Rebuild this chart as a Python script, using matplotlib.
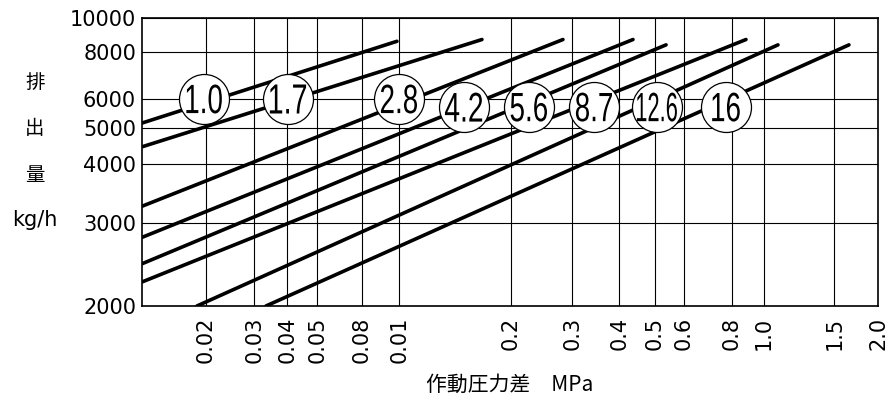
import numpy as np
import matplotlib
matplotlib.use("Agg")
import matplotlib.pyplot as plt
from matplotlib.textpath import TextPath
from matplotlib.patches import PathPatch
from matplotlib.font_manager import FontProperties
from matplotlib.transforms import Affine2D, ScaledTranslation
from matplotlib.ticker import FixedLocator, NullLocator

# --- data ---
sizes = ['1.0', '1.7', '2.8', '4.2', '5.6', '8.7', '12.6', '16']
dp_start = [0.012, 0.012, 0.012, 0.012, 0.012, 0.012, 0.0186, 0.0332]
dp_end = [0.0986, 0.167, 0.282, 0.436, 0.537, 0.883, 1.084, 1.651]
flow_start = [5150, 4450, 3260, 2800, 2460, 2250, 2000, 2000]
flow_end = [8600, 8700, 8700, 8700, 8400, 8700, 8400, 8400]
label_dp = [0.0197, 0.0402, 0.0998, 0.149, 0.225, 0.3425, 0.507, 0.773]
label_flow = [6000, 6000, 6000, 5700, 5700, 5700, 5700, 5700]

x_ticks = [0.02, 0.03, 0.04, 0.05, 0.08, 0.1, 0.2, 0.3, 0.4, 0.5, 0.6, 0.8, 1.0, 1.5, 2.0]
x_labels = ['0.02', '0.03', '0.04', '0.05', '0.08', '0.01', '0.2', '0.3',
            '0.4', '0.5', '0.6', '0.8', '1.0', '1.5', '2.0']
y_ticks = [2000, 3000, 4000, 5000, 6000, 8000, 10000]
y_labels = ['2000', '3000', '4000', '5000', '6000', '8000', '10000']

# --- the printed grid is not a clean log grid, so calibrate the axes ---
x_cal = [0.012] + x_ticks
x_cal_px = [142, 206, 254.3, 287.3, 317.3, 362, 399.3, 511, 572.3,
            619.3, 654.7, 683.7, 731.7, 764, 834.3, 878.3]
y_cal = y_ticks
y_cal_px = [306, 223.3, 164.3, 127.7, 99, 52.3, 18.3]

lx = np.log10(x_cal)
ly = np.log10(y_cal)
ypx = -np.array(y_cal_px)


def x_fwd(v):
    return np.interp(np.log10(np.clip(v, 1e-9, None)), lx, x_cal_px)


def x_inv(p):
    return 10 ** np.interp(p, x_cal_px, lx)


def y_fwd(v):
    return np.interp(np.log10(np.clip(v, 1e-9, None)), ly, ypx)


def y_inv(p):
    return 10 ** np.interp(p, ypx, ly)


W, H = 891, 403
fig = plt.figure(figsize=(W / 100, H / 100), dpi=100)
ax = fig.add_axes([142 / W, (H - 306) / H, (878.3 - 142) / W, (306 - 18.3) / H])
ax.set_xscale('function', functions=(x_fwd, x_inv))
ax.set_yscale('function', functions=(y_fwd, y_inv))
ax.set_xlim(0.012, 2.0)
ax.set_ylim(2000, 10000)

ax.xaxis.set_major_locator(FixedLocator(x_ticks))
ax.xaxis.set_minor_locator(NullLocator())
ax.yaxis.set_major_locator(FixedLocator(y_ticks))
ax.yaxis.set_minor_locator(NullLocator())
ax.set_xticklabels(x_labels, rotation=90)
ax.set_yticklabels(y_labels)
ax.tick_params(axis='x', length=0, pad=8, labelsize=15)
ax.tick_params(axis='y', length=0, pad=4.3, labelsize=15)
ax.grid(True, color='black', linewidth=0.8)
for sp in ax.spines.values():
    sp.set_linewidth(1.2)

# flow lines
for i in range(len(sizes)):
    ax.plot([dp_start[i], dp_end[i]], [flow_start[i], flow_end[i]],
            color='black', linewidth=2.6, solid_capstyle='round', zorder=3)

# circled size labels
ax.scatter(label_dp, label_flow, s=36 ** 2, marker='o', facecolor='white',
           edgecolor='black', linewidths=0.9, zorder=4, clip_on=False)
prop = FontProperties(family='Liberation Sans')
for lab, x, y in zip(sizes, label_dp, label_flow):
    tp = TextPath((0, 0), lab, size=1, prop=prop)
    bb = tp.get_extents()
    sy = 29 / bb.height
    sx = min(sy * 0.68, 40 / bb.width)
    tr = (Affine2D().translate(-(bb.x0 + bb.x1) / 2, -(bb.y0 + bb.y1) / 2).scale(sx, sy)
          + ScaledTranslation(x, y, ax.transData))
    fig.add_artist(PathPatch(tp, transform=tr, facecolor='black', edgecolor='none', zorder=5))

# axis titles
cjk = ['Noto Sans CJK JP', 'DejaVu Sans']
for ch, yy in zip('排出量', [83, 129, 176]):
    fig.text(35 / W, 1 - yy / H, ch, ha='center', va='center', fontsize=14, family=cjk)
fig.text(35 / W, 1 - 220 / H, 'kg/h', ha='center', va='center', fontsize=15)
fig.text(510 / W, 1 - 385 / H, '作動圧力差\u3000MPa', ha='center', va='center',
         fontsize=15, family=cjk)

fig.savefig('out.png', dpi=100)
